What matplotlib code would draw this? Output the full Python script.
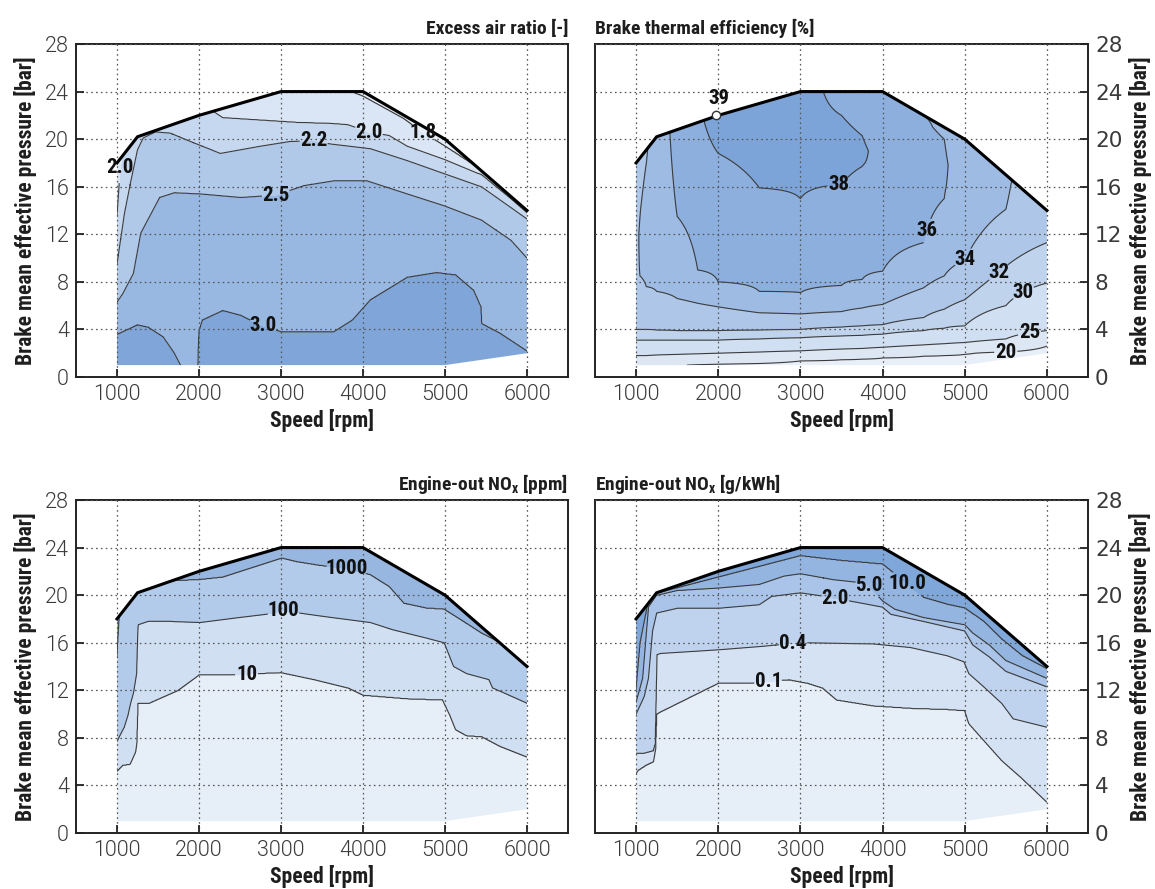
import numpy as np
import matplotlib
matplotlib.use("Agg")
import matplotlib.pyplot as plt
from matplotlib.patches import Polygon

# ---------------- data ----------------
# operating envelope (speed rpm, BMEP bar)
env_speed = [1000, 1000, 1250, 2000, 3000, 4000, 5000, 6000, 6000, 5000]
env_load = [1, 18, 20.2, 22, 24, 24, 20, 14, 2, 1]
full_speed = [1000, 1250, 2000, 3000, 4000, 5000, 6000]
full_load = [18, 20.2, 22, 24, 24, 20, 14]

# Excess air ratio: BMEP where each iso-line is crossed (value falls with load)
ea_levels = [3.0, 2.5, 2.2, 2.0, 1.8]
ea_30_speed = [1000, 1250, 1380, 1560, 1700, 1776, 1790, 1975, 1985, 1992, 2000, 2040, 2290, 2510, 2740, 3010, 3640, 3870, 4090, 4540, 4900, 5130, 5350, 5440, 5450, 5670, 6000]
ea_30_load = [3.6, 4.4, 4.2, 3.4, 2.0, 1.0, 0.0, 0.0, 1.0, 3.0, 3.9, 4.8, 5.6, 5.2, 4.4, 3.8, 3.8, 4.8, 6.5, 8.4, 8.8, 8.6, 7.3, 5.9, 4.5, 3.7, 2.2]
ea_25_speed = [1000, 1070, 1200, 1290, 1520, 1700, 2015, 2510, 2940, 3280, 3640, 4050, 4540, 4990, 5445, 5805, 6000]
ea_25_load = [6.3, 7.0, 8.7, 12.1, 15.1, 15.5, 15.4, 15.1, 15.3, 16.1, 16.5, 16.5, 15.4, 14.4, 13.2, 11.5, 10.0]
ea_22_speed = [1000, 1090, 1170, 1250, 1320, 1470, 1650, 1930, 2260, 2740, 3100, 3400, 3600, 4090, 4540, 4990, 5445, 6000]
ea_22_load = [9.5, 13.7, 16.5, 19.1, 20.1, 20.6, 20.5, 19.7, 18.8, 19.4, 19.8, 19.9, 19.6, 19.2, 18.2, 17.1, 16.0, 13.3]
ea_20_speed = [1000, 1040, 1070, 1100, 2150, 2180, 2290, 2740, 3190, 3640, 3820, 4070, 4320, 4540, 4990, 5445, 5800, 6000]
ea_20_load = [13.5, 17.5, 18.8, 30, 30, 22.3, 21.8, 21.6, 21.4, 21.3, 21.2, 20.6, 20.3, 19.4, 18.3, 17.0, 15.0, 13.8]
ea_18_speed = [1000, 3750, 3850, 4000, 4500, 4720, 5000, 5200, 5400, 5450]
ea_18_load = [31, 31, 24.0, 23.6, 21.7, 20.6, 19.4, 18.5, 17.6, 31]

# Brake thermal efficiency [%]: (BMEP, value)
bte_speeds = [1000, 1125, 1250, 1500, 1750, 2000, 2500, 3000, 3500, 3750, 4000, 4500, 4750, 5000, 5500, 6000]
bte_knots = [
    [(1, 21), (1.8, 25), (3.1, 30), (4.0, 32), (8.5, 33.9), (14, 33.6), (18, 33.2)],
    [(1, 21), (1.8, 25), (3.1, 30), (4.0, 32), (7.6, 34), (12, 34.8), (18.0, 34), (19.2, 33.8)],
    [(1, 20.5), (1.85, 25), (3.1, 30), (3.95, 32), (7.2, 34), (14, 35.3), (20.2, 35.3)],
    [(1, 20.2), (1.9, 25), (3.1, 30), (3.9, 32), (6.6, 34), (13.5, 36), (20.8, 36.4)],
    [(1, 19.8), (1.95, 25), (3.1, 30), (3.9, 32), (6.2, 34), (9.0, 36), (21.4, 37.6)],
    [(1, 19.6), (2.0, 25), (3.1, 30), (3.9, 32), (5.9, 34), (8.0, 36), (18.8, 38), (22, 39)],
    [(1, 19.3), (2.1, 25), (3.2, 30), (3.95, 32), (5.4, 34), (7.2, 36), (15.9, 38), (23, 38.8)],
    [(1, 19.1), (1.35, 20), (2.2, 25), (3.3, 30), (4.0, 32), (5.3, 34), (7.1, 36), (15.0, 38), (24, 38.5)],
    [(1, 19.0), (1.45, 20), (2.35, 25), (3.45, 30), (4.2, 32), (5.5, 34), (7.7, 36), (16.2, 38), (19.0, 38.4), (22.0, 38), (24, 37.6)],
    [(1, 18.9), (1.5, 20), (2.4, 25), (3.5, 30), (4.3, 32), (5.8, 34), (8.2, 36), (17.7, 38), (19.0, 38.15), (20.3, 38), (24, 37.4)],
    [(1, 18.8), (1.6, 20), (2.5, 25), (3.6, 30), (4.4, 32), (6.1, 34), (8.9, 36), (18, 37.8), (24, 37)],
    [(1, 18.5), (1.75, 20), (2.7, 25), (3.9, 30), (5.0, 32), (7.5, 34), (11.3, 36), (17, 36.8), (22, 36)],
    [(1, 18.3), (1.8, 20), (2.8, 25), (4.1, 30), (5.7, 32), (8.5, 34), (15.0, 36), (17.8, 36.15), (20, 36), (21, 35.8)],
    [(1, 18.2), (1.9, 20), (2.9, 25), (4.3, 30), (6.5, 32), (9.8, 34), (16, 35.5), (20, 35.2)],
    [(2, 18.5), (2.1, 20), (3.2, 25), (6.0, 30), (9.3, 32), (14.1, 34), (17, 34.2)],
    [(2, 19), (2.6, 20), (3.9, 25), (7.9, 30), (11.3, 32), (14, 33)],
]
bte_levels = [20, 25, 30, 32, 34, 36, 38]
bte_peak_speed, bte_peak_load, bte_peak_value = 1975, 22.0, 39

# Engine-out NOx [ppm]: BMEP where each iso-line is crossed (value rises with load)
ppm_levels = [10, 100, 1000]
ppm_10_speed = [1000, 1070, 1160, 1225, 1240, 1255, 1385, 1745, 2000, 2290, 3000, 3410, 3820, 4000, 4540, 4970, 5060, 5130, 5260, 5450, 5670, 6000]
ppm_10_load = [5.2, 5.7, 5.8, 6.8, 7.5, 10.9, 10.9, 12.0, 13.3, 13.3, 13.5, 12.9, 12.2, 11.6, 11.3, 11.2, 9.9, 8.7, 8.2, 8.1, 7.3, 6.4]
ppm_100_speed = [1000, 1090, 1135, 1167, 1203, 1240, 1257, 1385, 1610, 2015, 2470, 2830, 3030, 3320, 3640, 4090, 4360, 4770, 4990, 5105, 5265, 5535, 5580, 6000]
ppm_100_load = [7.7, 8.9, 9.9, 10.9, 11.8, 13.4, 17.5, 17.8, 17.8, 17.7, 18.1, 18.4, 18.7, 18.4, 18.1, 17.7, 17.1, 16.4, 16.0, 14.0, 13.4, 12.9, 12.2, 10.9]
ppm_1000_speed = [1000, 1030, 1050, 1650, 1700, 2015, 2290, 2650, 3010, 3190, 3460, 3800, 4090, 4320, 4500, 4770, 4990, 5220, 5445, 5670, 5700]
ppm_1000_load = [14.8, 18.5, 30, 30, 21.2, 21.3, 21.5, 22.3, 23.1, 22.8, 22.5, 22.2, 21.7, 20.7, 19.3, 18.9, 18.8, 17.8, 16.8, 16.0, 30]

# Engine-out NOx [g/kWh]
gk_levels = [0.1, 0.4, 2.0, 5.0, 10.0]
gk_01_speed = [1000, 1030, 1120, 1210, 1235, 1250, 1300, 2000, 2370, 2860, 3090, 3270, 3440, 3890, 4340, 4790, 5000, 5050, 5230, 5450, 5680, 6000]
gk_01_load = [5.0, 5.3, 5.7, 6.0, 7.0, 10.0, 10.2, 12.6, 12.6, 12.9, 12.6, 12.2, 11.2, 10.7, 10.5, 10.4, 10.3, 9.2, 7.8, 6.1, 4.7, 2.6]
gk_04_speed = [1000, 1100, 1210, 1235, 1255, 1300, 2000, 2550, 3000, 3890, 4340, 4790, 4990, 5050, 5230, 5450, 5590, 6000]
gk_04_load = [6.7, 6.7, 6.9, 7.5, 15.0, 15.1, 15.4, 15.7, 16.0, 15.9, 15.6, 14.9, 14.4, 13.4, 12.3, 10.9, 9.6, 8.9]
gk_2_speed = [1000, 1100, 1150, 1200, 1250, 1500, 2000, 2500, 2650, 3000, 3300, 4000, 4100, 4500, 5000, 5100, 5300, 5500, 6000]
gk_2_load = [10.0, 11.5, 13.0, 17.0, 18.5, 18.9, 18.9, 19.2, 19.9, 20.2, 19.9, 19.0, 18.4, 17.8, 17.0, 15.8, 14.8, 13.6, 12.3]
gk_5_speed = [1000, 1080, 1150, 1250, 1500, 2000, 2500, 2800, 3000, 3400, 3800, 4000, 4150, 4500, 5000, 5100, 5300, 5500, 6000]
gk_5_load = [11.0, 13.0, 19.0, 20.0, 20.4, 20.6, 20.9, 21.6, 21.8, 21.3, 21.0, 19.5, 18.8, 18.1, 17.5, 16.8, 15.8, 14.5, 13.0]
gk_10_speed = [1000, 1050, 1150, 1250, 1500, 2000, 2500, 3000, 3500, 4000, 4200, 4500, 4800, 5000, 5230, 5450, 5700, 6000]
gk_10_load = [12.0, 16.0, 19.5, 20.15, 20.6, 21.5, 22.4, 23.3, 22.9, 22.6, 21.5, 19.8, 19.2, 18.9, 17.8, 16.3, 14.9, 13.8]

# ---------------- styling ----------------
cond_family = ['Roboto Condensed', 'PT Sans Narrow', 'DejaVu Sans']
tick_family = ['Roboto', 'DejaVu Sans']
line_col = '#3c3c3c'

S = np.linspace(950, 6050, 1021)
P = np.linspace(0, 26, 521)


def band_field(curves):
    C = np.array([np.interp(S, sp, ld) for sp, ld in curves])
    for k in range(1, len(C)):
        C[k] = np.maximum(C[k], C[k - 1] + 1e-3)
    n = len(C)
    fp = np.arange(n + 2, dtype=float)
    F = np.empty((P.size, S.size))
    for j in range(S.size):
        xp = np.concatenate(([-100.0], C[:, j], [100.0]))
        F[:, j] = np.interp(P, xp, fp)
    return F


def column_field(col_speeds, col_knots):
    cols = np.array([np.interp(P, [k[0] for k in kn], [k[1] for k in kn]) for kn in col_knots])
    return np.array([np.interp(S, col_speeds, cols[:, i]) for i in range(P.size)])


def style_axes(ax, side, title):
    ax.set_xlim(500, 6500)
    ax.set_ylim(0, 28)
    ax.set_xticks(range(1000, 6001, 1000))
    ax.set_yticks(range(0, 29, 4))
    ax.grid(True, linestyle=(0, (1.3, 2.6)), color='#555555', linewidth=0.9)
    ax.set_axisbelow(False)
    for sp in ax.spines.values():
        sp.set_linewidth(1.4)
        sp.set_color('#222222')
    ax.tick_params(direction='in', length=6, width=1.3, color='#222222',
                   labelsize=15.5, labelcolor='#3a3a3a', pad=5)
    for lab in ax.get_xticklabels() + ax.get_yticklabels():
        lab.set_family(tick_family)
        lab.set_fontweight(300)
    lbl = dict(fontsize=15.5, fontweight='bold', family=cond_family, color='#1e1e1e')
    ax.set_xlabel('Speed [rpm]', labelpad=3, **lbl)
    tkw = dict(pad=7, fontsize=14, fontweight='bold', family=cond_family, color='#1e1e1e')
    if side == 'left':
        ax.tick_params(left=True, right=False, top=False, bottom=True)
        ax.set_ylabel('Brake mean effective pressure [bar]', labelpad=6, **lbl)
        ax.set_title(title, loc='right', **tkw)
    else:
        ax.yaxis.tick_right()
        ax.yaxis.set_label_position('right')
        ax.tick_params(left=False, right=True, top=False, bottom=True)
        ax.set_ylabel('Brake mean effective pressure [bar]', labelpad=5, **lbl)
        ax.set_title(title, loc='left', **tkw)


def draw_map(ax, F, fill_levels, fill_colors, line_levels, fmt, label_pos):
    clip = Polygon(np.column_stack([env_speed, env_load]), closed=True,
                   transform=ax.transData, facecolor='none', edgecolor='none')
    cf = ax.contourf(S, P, F, levels=fill_levels, colors=fill_colors, zorder=1)
    cf.set_clip_path(clip)
    cl = ax.contour(S, P, F, levels=line_levels, colors=line_col, linewidths=0.8, zorder=2)
    with plt.rc_context({'font.family': cond_family, 'font.weight': 'bold'}):
        texts = ax.clabel(cl, levels=line_levels, fmt=fmt, manual=label_pos,
                          inline=True, fontsize=15, inline_spacing=3)
    for t in texts:
        t.set_color('#111111')
        t.set_rotation(0)
        t.set_zorder(5)
    cl.set_clip_path(clip)
    ax.plot(full_speed, full_load, color='black', linewidth=2.2, zorder=4,
            solid_joinstyle='miter')


fig = plt.figure(figsize=(11.55, 8.89), dpi=100)
W, H = 1155, 889
axes_px = {
    'tl': (76, 44, 568, 377), 'tr': (595, 44, 1088, 377),
    'bl': (76, 500, 568, 833), 'br': (595, 500, 1088, 833),
}
axs = {}
for k, (x0, y0, x1, y1) in axes_px.items():
    axs[k] = fig.add_axes([x0 / W, 1 - y1 / H, (x1 - x0) / W, (y1 - y0) / H])

# --- Excess air ratio ---
ax = axs['tl']
F = band_field([(ea_30_speed, ea_30_load), (ea_25_speed, ea_25_load), (ea_22_speed, ea_22_load),
                (ea_20_speed, ea_20_load), (ea_18_speed, ea_18_load)])
ea_colors = ['#80a6d9', '#98b8e1', '#b0c9e9', '#c6d8f0', '#dae6f5', '#e7eef8']
draw_map(ax, F, [-1, 1, 2, 3, 4, 5, 7], ea_colors, [1, 2, 3, 4, 5],
         {i + 1: f'{v:.1f}' for i, v in enumerate(ea_levels)},
         [(2780, 4.4), (2940, 15.3), (3400, 19.9), (1040, 17.6), (4070, 20.6), (4720, 20.4)])
style_axes(ax, 'left', 'Excess air ratio [-]')

# --- Brake thermal efficiency ---
ax = axs['tr']
F = column_field(bte_speeds, bte_knots)
bte_colors = ['#e8eff8', '#dde7f4', '#d0dff1', '#bfd3ec', '#aec7e8', '#9dbbe3', '#8cafdd', '#7ca4d8']
draw_map(ax, F, [0] + bte_levels + [60], bte_colors, bte_levels,
         {v: f'{v}' for v in bte_levels},
         [(5500, 2.0), (5790, 3.6), (5720, 7.0), (5400, 8.9), (5000, 9.9), (4583, 12.2), (3466, 16.2)])
ax.plot([bte_peak_speed], [bte_peak_load], 'o', ms=6, mfc='white', mec='#333333', mew=1.0, zorder=6)
ax.annotate(f'{bte_peak_value}', (bte_peak_speed, bte_peak_load), xytext=(2, 5),
            textcoords='offset points', ha='center', va='bottom', fontsize=15,
            fontweight='bold', family=cond_family, color='#111111', zorder=6)
style_axes(ax, 'right', 'Brake thermal efficiency [%]')

# --- NOx ppm ---
ax = axs['bl']
F = band_field([(ppm_10_speed, ppm_10_load), (ppm_100_speed, ppm_100_load), (ppm_1000_speed, ppm_1000_load)])
ppm_colors = ['#e6eef8', '#d0dff2', '#b2cbea', '#97b7e0']
draw_map(ax, F, [-1, 1, 2, 3, 5], ppm_colors, [1, 2, 3],
         {i + 1: f'{v}' for i, v in enumerate(ppm_levels)},
         [(2580, 13.3), (3030, 18.7), (3800, 22.2)])
style_axes(ax, 'left', r'Engine-out NO$_\mathregular{x}$ [ppm]')

# --- NOx g/kWh ---
ax = axs['br']
F = band_field([(gk_01_speed, gk_01_load), (gk_04_speed, gk_04_load), (gk_2_speed, gk_2_load),
                (gk_5_speed, gk_5_load), (gk_10_speed, gk_10_load)])
gk_colors = ['#e6eef8', '#d4e2f3', '#bfd3ee', '#a9c4e8', '#94b5e0', '#80a7da']
draw_map(ax, F, [-1, 1, 2, 3, 4, 5, 7], gk_colors, [1, 2, 3, 4, 5],
         {i + 1: f'{v:.1f}' for i, v in enumerate(gk_levels)},
         [(2610, 12.6), (2910, 16.0), (3400, 19.1), (3820, 20.7), (4290, 20.9)])
style_axes(ax, 'right', r'Engine-out NO$_\mathregular{x}$ [g/kWh]')

fig.savefig('out.png', dpi=100, facecolor='white')
